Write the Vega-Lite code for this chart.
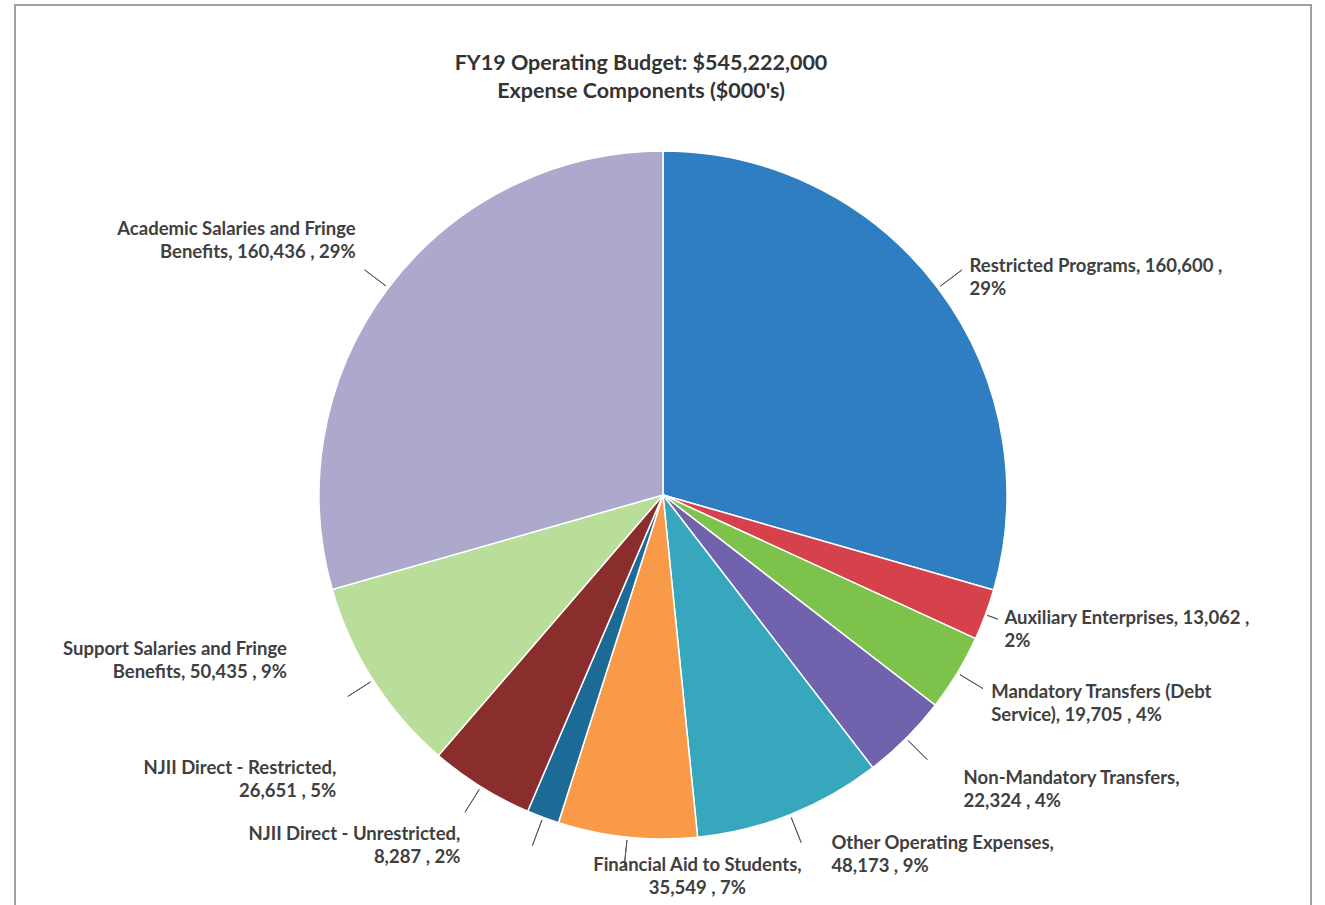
{
  "$schema": "https://vega.github.io/schema/vega-lite/v6.json",
  "width": 1296,
  "height": 980,
  "autosize": {"type": "none"},
  "padding": {"left": 15, "top": 5, "right": 14, "bottom": 0},
  "background": "white",
  "view": {"stroke": "#a0a0a0", "strokeWidth": 2, "fill": "white"},
  "config": {"view": {"stroke": "#a0a0a0", "strokeWidth": 2}, "font": "Lato"},
  "title": {
    "text": ["FY19 Operating Budget: $545,222,000", "Expense Components ($000's)"],
    "anchor": "middle",
    "dx": -22,
    "offset": -97,
    "fontSize": 21.5,
    "font": "Lato",
    "fontWeight": "bold",
    "color": "#333333",
    "lineHeight": 28
  },
  "data": {
    "values": [
      {"idx": 1, "category": "Restricted Programs", "value": 160600, "label": "Restricted Programs, 160,600 ,\n29%"},
      {"idx": 2, "category": "Auxiliary Enterprises", "value": 13062, "label": "Auxiliary Enterprises, 13,062 ,\n2%"},
      {"idx": 3, "category": "Mandatory Transfers (Debt Service)", "value": 19705, "label": "Mandatory Transfers (Debt\nService),  19,705 , 4%"},
      {"idx": 4, "category": "Non-Mandatory Transfers", "value": 22324, "label": "Non-Mandatory Transfers,\n22,324 , 4%"},
      {"idx": 5, "category": "Other Operating Expenses", "value": 48173, "label": "Other Operating Expenses,\n48,173 , 9%"},
      {"idx": 6, "category": "Financial Aid to Students", "value": 35549, "label": "Financial Aid to Students,\n35,549 , 7%"},
      {"idx": 7, "category": "NJII Direct - Unrestricted", "value": 8287, "label": "NJII Direct - Unrestricted,\n8,287 , 2%"},
      {"idx": 8, "category": "NJII Direct - Restricted", "value": 26651, "label": "NJII Direct - Restricted,\n26,651 , 5%"},
      {"idx": 9, "category": "Support Salaries and Fringe Benefits", "value": 50435, "label": "Support Salaries and Fringe\nBenefits, 50,435 , 9%"},
      {"idx": 10, "category": "Academic Salaries and Fringe Benefits", "value": 160436, "label": "Academic Salaries and Fringe\nBenefits, 160,436 , 29%"}
    ]
  },
  "encoding": {
    "theta": {"field": "value", "type": "quantitative", "stack": true},
    "order": {"field": "idx", "type": "quantitative"}
  },
  "layer": [
    {
      "mark": {"type": "arc", "outerRadius": 344, "stroke": "white", "strokeWidth": 1.5},
      "encoding": {
        "color": {
          "field": "category",
          "type": "nominal",
          "legend": null,
          "scale": {
            "domain": ["Restricted Programs", "Auxiliary Enterprises", "Mandatory Transfers (Debt Service)", "Non-Mandatory Transfers", "Other Operating Expenses", "Financial Aid to Students", "NJII Direct - Unrestricted", "NJII Direct - Restricted", "Support Salaries and Fringe Benefits", "Academic Salaries and Fringe Benefits"],
            "range": ["#2F7EC2", "#D5424C", "#7DC24B", "#7162AE", "#37A7BE", "#F89A48", "#1C6A96", "#8A2D2D", "#B8DE99", "#ACA9CD"]
          }
        }
      }
    },
    {
      "mark": {"type": "arc", "outerRadius": 374, "innerRadius": 347, "padAngle": 3, "filled": false, "color": "#595959", "strokeWidth": 1},
      "encoding": {
        "detail": {"field": "category", "type": "nominal"},
        "strokeOpacity": {"condition": {"test": "datum.category === 'Auxiliary Enterprises'", "value": 0}, "value": 1}
      }
    },
    {
      "mark": {"type": "arc", "outerRadius": 357, "innerRadius": 346, "padAngle": 3, "filled": false, "color": "#595959", "strokeWidth": 1},
      "encoding": {
        "detail": {"field": "category", "type": "nominal"},
        "strokeOpacity": {"condition": {"test": "datum.category === 'Auxiliary Enterprises'", "value": 1}, "value": 0}
      }
    },
    {
      "mark": {"type": "text", "radius": 380, "align": "left", "baseline": "middle", "dx": 3, "fontSize": 18.5, "fontWeight": "bold", "font": "Lato", "color": "#404040", "lineBreak": "\n", "lineHeight": 23},
      "encoding": {
        "detail": {"field": "category", "type": "nominal"},
        "text": {"condition": {"test": "indexof(['Restricted Programs','Mandatory Transfers (Debt Service)'], datum.category) >= 0", "field": "label", "type": "nominal"}, "value": ""}
      }
    },
    {
      "mark": {"type": "text", "radius": 362, "align": "left", "baseline": "middle", "dx": 2, "dy": -3, "fontSize": 18.5, "fontWeight": "bold", "font": "Lato", "color": "#404040", "lineBreak": "\n", "lineHeight": 23},
      "encoding": {
        "detail": {"field": "category", "type": "nominal"},
        "text": {"condition": {"test": "datum.category === 'Auxiliary Enterprises'", "field": "label", "type": "nominal"}, "value": ""}
      }
    },
    {
      "mark": {"type": "text", "radius": 400, "align": "left", "baseline": "middle", "dx": 18, "fontSize": 18.5, "fontWeight": "bold", "font": "Lato", "color": "#404040", "lineBreak": "\n", "lineHeight": 23},
      "encoding": {
        "detail": {"field": "category", "type": "nominal"},
        "text": {"condition": {"test": "datum.category === 'Non-Mandatory Transfers'", "field": "label", "type": "nominal"}, "value": ""}
      }
    },
    {
      "mark": {"type": "text", "radius": 380, "align": "left", "baseline": "middle", "dx": 28, "dy": -5, "fontSize": 18.5, "fontWeight": "bold", "font": "Lato", "color": "#404040", "lineBreak": "\n", "lineHeight": 23},
      "encoding": {
        "detail": {"field": "category", "type": "nominal"},
        "text": {"condition": {"test": "datum.category === 'Other Operating Expenses'", "field": "label", "type": "nominal"}, "value": ""}
      }
    },
    {
      "mark": {"type": "text", "radius": 400, "align": "right", "baseline": "middle", "dx": 12, "dy": -25, "fontSize": 18.5, "fontWeight": "bold", "font": "Lato", "color": "#404040", "lineBreak": "\n", "lineHeight": 23},
      "encoding": {
        "detail": {"field": "category", "type": "nominal"},
        "text": {"condition": {"test": "datum.category === 'Academic Salaries and Fringe Benefits'", "field": "label", "type": "nominal"}, "value": ""}
      }
    },
    {
      "mark": {"type": "text", "radius": 400, "align": "right", "baseline": "middle", "dx": -39, "dy": -61, "fontSize": 18.5, "fontWeight": "bold", "font": "Lato", "color": "#404040", "lineBreak": "\n", "lineHeight": 23},
      "encoding": {
        "detail": {"field": "category", "type": "nominal"},
        "text": {"condition": {"test": "datum.category === 'Support Salaries and Fringe Benefits'", "field": "label", "type": "nominal"}, "value": ""}
      }
    },
    {
      "mark": {"type": "text", "radius": 400, "align": "right", "baseline": "middle", "dx": -115, "dy": -66, "fontSize": 18.5, "fontWeight": "bold", "font": "Lato", "color": "#404040", "lineBreak": "\n", "lineHeight": 23},
      "encoding": {
        "detail": {"field": "category", "type": "nominal"},
        "text": {"condition": {"test": "datum.category === 'NJII Direct - Restricted'", "field": "label", "type": "nominal"}, "value": ""}
      }
    },
    {
      "mark": {"type": "text", "radius": 400, "align": "right", "baseline": "middle", "dx": -63, "dy": -36, "fontSize": 18.5, "fontWeight": "bold", "font": "Lato", "color": "#404040", "lineBreak": "\n", "lineHeight": 23},
      "encoding": {
        "detail": {"field": "category", "type": "nominal"},
        "text": {"condition": {"test": "datum.category === 'NJII Direct - Unrestricted'", "field": "label", "type": "nominal"}, "value": ""}
      }
    },
    {
      "mark": {"type": "text", "radius": 362, "align": "center", "baseline": "top", "dx": 72, "dy": 1, "fontSize": 18.5, "fontWeight": "bold", "font": "Lato", "color": "#404040", "lineBreak": "\n", "lineHeight": 23},
      "encoding": {
        "detail": {"field": "category", "type": "nominal"},
        "text": {"condition": {"test": "datum.category === 'Financial Aid to Students'", "field": "label", "type": "nominal"}, "value": ""}
      }
    }
  ]
}
